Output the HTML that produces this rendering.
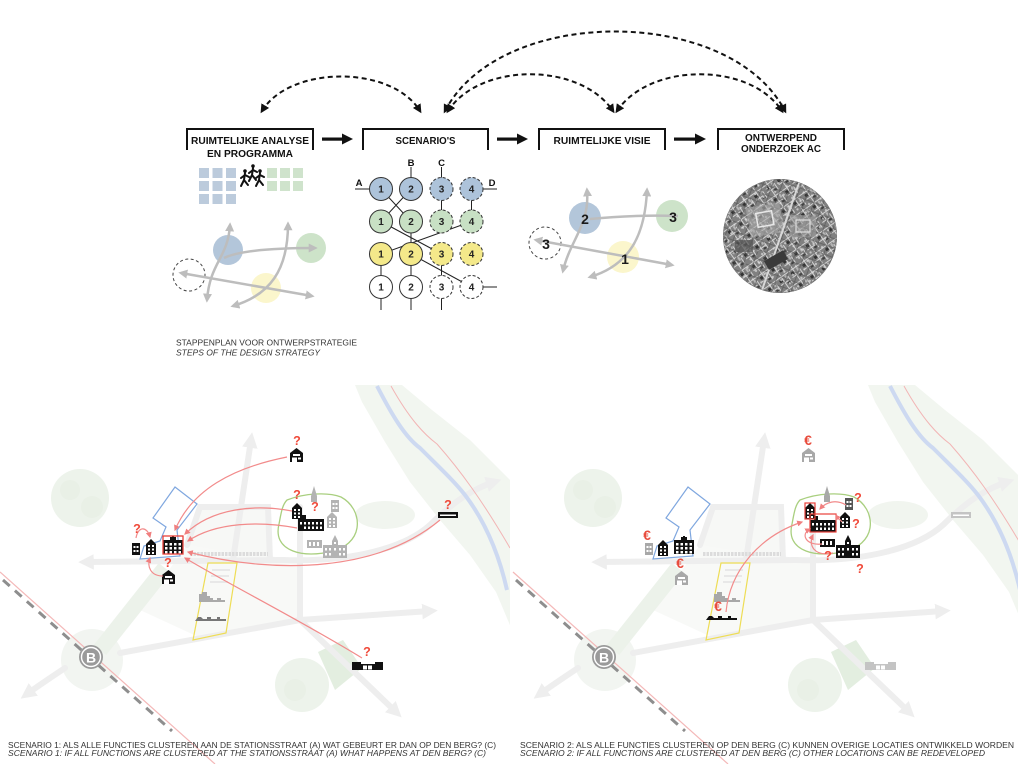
<!DOCTYPE html>
<html><head><meta charset="utf-8">
<style>
html,body{margin:0;padding:0;background:#fff;}
svg{display:block;}
text{font-family:"Liberation Sans",Arial,sans-serif;}
</style></head><body>
<svg width="1018" height="764" viewBox="0 0 1018 764" xmlns="http://www.w3.org/2000/svg" xmlns:xlink="http://www.w3.org/1999/xlink">
<defs>
 <marker id="mk" viewBox="0 0 10 10" refX="7" refY="5" markerWidth="4.5" markerHeight="4.5" orient="auto-start-reverse"><path d="M0,0 L10,5 L0,10 Z" fill="#111"/></marker>
 <marker id="mg" viewBox="0 0 10 10" refX="7" refY="5" markerWidth="3.6" markerHeight="3.6" orient="auto-start-reverse"><path d="M0,0 L10,5 L0,10 Z" fill="#bdbdbd"/></marker>
 <marker id="mr" viewBox="0 0 10 10" refX="8" refY="5" markerWidth="5" markerHeight="5" orient="auto"><path d="M0,0 L10,5 L0,10 Z" fill="#f07f7f"/></marker>
 <marker id="mroad" viewBox="0 0 10 10" refX="5" refY="5" markerWidth="2.6" markerHeight="2.6" orient="auto"><path d="M0,0 L10,5 L0,10 Z" fill="#eeeeee"/></marker>

 <pattern id="aer" width="14" height="14" patternUnits="userSpaceOnUse" patternTransform="rotate(-35)">
  <rect width="14" height="14" fill="#808080"/>
  <path d="M0,3H14 M0,10H9 M5,0V14 M11,6V14" stroke="#d2d2d2" stroke-width="1"/>
  <rect x="1" y="5" width="3" height="3" fill="#333"/>
  <rect x="7" y="11" width="3" height="2" fill="#404040"/>
  <rect x="8" y="4" width="2" height="4" fill="#b5b5b5"/>
 </pattern>
 <pattern id="aer2" width="9" height="9" patternUnits="userSpaceOnUse" patternTransform="rotate(20)">
  <rect width="9" height="9" fill="none"/>
  <path d="M0,2H9 M6,0V9" stroke="#505050" stroke-width="0.8"/>
  <rect x="1" y="4" width="2" height="2" fill="#e0e0e0"/>
 </pattern>
 <clipPath id="aerClip"><circle cx="780" cy="236" r="57"/></clipPath>
 <clipPath id="clipL"><rect x="0" y="380" width="510" height="384"/></clipPath>
 <clipPath id="clipR"><rect x="510" y="380" width="508" height="384"/></clipPath>

 <g id="bHouse"><path d="M0,5 L6.5,0 L13,5 V14 H0 Z"/><rect x="3" y="6" width="7" height="2" fill="#fff"/><rect x="2" y="9.5" width="5" height="4.5" fill="#fff"/><rect x="8" y="9.5" width="3" height="2" fill="#fff"/></g>
 <g id="bTall"><path d="M0,5 L5,0 L10,5 V16 H0Z"/><g fill="#fff"><rect x="2" y="6" width="2" height="2"/><rect x="6" y="6" width="2" height="2"/><rect x="2" y="9.5" width="2" height="2"/><rect x="6" y="9.5" width="2" height="2"/><rect x="2" y="13" width="2" height="2"/><rect x="6" y="13" width="2" height="2"/></g></g>
 <g id="bSmall"><rect width="8" height="12"/><g fill="#fff"><rect x="1.5" y="3" width="2" height="2"/><rect x="4.5" y="3" width="2" height="2"/><rect x="1.5" y="7" width="2" height="2"/><rect x="4.5" y="7" width="2" height="2"/></g></g>
 <g id="bBlock"><path d="M0,4 H7 V1 H9 V0 H11 V1 H13 V4 H20 V18 H0Z"/><g fill="#fff"><rect x="2" y="7" width="2.5" height="2.5"/><rect x="6.5" y="7" width="2.5" height="2.5"/><rect x="11" y="7" width="2.5" height="2.5"/><rect x="15.5" y="7" width="2.5" height="2.5"/><rect x="2" y="11" width="2.5" height="2.5"/><rect x="6.5" y="11" width="2.5" height="2.5"/><rect x="11" y="11" width="2.5" height="2.5"/><rect x="15.5" y="11" width="2.5" height="2.5"/><rect x="2" y="15" width="2.5" height="2.5"/><rect x="6.5" y="15" width="2.5" height="2.5"/><rect x="11" y="15" width="2.5" height="2.5"/><rect x="15.5" y="15" width="2.5" height="2.5"/></g></g>
 <g id="bBig"><path d="M0,6 H4 V2 H8 V6 H26 V18 H0Z"/><g fill="#fff"><rect x="2" y="9" width="2" height="2.5"/><rect x="6" y="9" width="2" height="2.5"/><rect x="10" y="9" width="2" height="2.5"/><rect x="14" y="9" width="2" height="2.5"/><rect x="18" y="9" width="2" height="2.5"/><rect x="22" y="9" width="2" height="2.5"/><rect x="6" y="13.5" width="2" height="2.5"/><rect x="10" y="13.5" width="2" height="2.5"/><rect x="14" y="13.5" width="2" height="2.5"/><rect x="18" y="13.5" width="2" height="2.5"/><rect x="22" y="13.5" width="2" height="2.5"/></g></g>
 <g id="bChurch"><path d="M9,6 L12,0 L15,6 V10 H24 V23 H0 V10 H9 Z"/><g fill="#fff"><rect x="11" y="7" width="2" height="2"/><rect x="2" y="13" width="2" height="2.5"/><rect x="6" y="13" width="2" height="2.5"/><rect x="11" y="13" width="2" height="2.5"/><rect x="16" y="13" width="2" height="2.5"/><rect x="20" y="13" width="2" height="2.5"/><rect x="2" y="18" width="2" height="2.5"/><rect x="6" y="18" width="2" height="2.5"/><rect x="16" y="18" width="2" height="2.5"/><rect x="20" y="18" width="2" height="2.5"/></g></g>
 <g id="bRow"><path d="M0,2 H15 V10 H0Z"/><g fill="#fff"><rect x="2" y="4" width="2" height="4"/><rect x="6" y="4" width="2" height="4"/><rect x="10" y="4" width="2" height="4"/></g></g>
 <g id="bFlat"><rect width="20" height="6"/><rect x="2" y="2.5" width="16" height="1.5" fill="#fff"/></g>
 <g id="bFactory"><path d="M0,0 H9 V2 H23 V0 H31 V8 H0 Z"/><rect x="11" y="3.5" width="4" height="4" fill="#fff"/><rect x="16" y="3.5" width="4" height="4" fill="#fff"/></g>
 <g id="bSpire"><path d="M3,0 L6,10 V16 H0 V10 Z"/></g>
 <g id="bJag"><path d="M0,10 V2 H3 V0 H8 V4 H11 V6 H14 V8 H18 V6 H22 V8 H26 V10 Z"/></g>
 <g id="bLow"><path d="M0,5 L3,1 H6 L8,3 H12 V1 H16 V3 H22 V1 H25 V3 H31 V5 Z"/></g>

 <g id="base">
  <path d="M355,385 L402,385 L432,410 L470,440 L500,470 L512,482 L512,630 L496,592 L470,555 L440,520 L410,482 L385,442 L362,402 Z" fill="#f2f6f0"/>
  <ellipse cx="385" cy="515" rx="30" ry="14" fill="#f1f5ef"/>
  <circle cx="80" cy="498" r="29" fill="#edf3eb"/>
  <circle cx="70" cy="490" r="10" fill="#e9f0e6"/>
  <circle cx="92" cy="507" r="11" fill="#e9f0e6"/>
  <circle cx="302" cy="685" r="27" fill="#edf3eb"/>
  <circle cx="295" cy="690" r="11" fill="#e9f0e6"/>
  <polygon points="318,652 343,640 362,668 335,690" fill="#e3eee0"/>
  <circle cx="92" cy="660" r="31" fill="#f2f5f1"/>
  <polygon points="187,545 283,558 300,560 300,620 205,640 140,610" fill="#f8f9f7"/>
  <polygon points="200,507 268,507 270,558 187,545" fill="#f7f8f6"/>
  <path d="M100,650 L165,568" stroke="#ecf2ea" stroke-width="16" fill="none"/>
  <g stroke="#eeeeee" stroke-width="6" fill="none" stroke-linecap="round">
   <path d="M283,560 L86,562" marker-end="url(#mroad)"/>
   <path d="M283,560 C340,562 400,552 430,525 C455,500 475,488 494,482" marker-end="url(#mroad)"/>
   <path d="M233,560 L251,440" marker-end="url(#mroad)"/>
   <path d="M187,545 L200,507 L268,507 L270,560"/>
   <path d="M300,507 L300,620"/>
   <path d="M120,653 L300,620 L430,611" marker-end="url(#mroad)"/>
   <path d="M300,620 L396,712" marker-end="url(#mroad)"/>
   <path d="M65,668 C50,678 38,686 27,694" marker-end="url(#mroad)"/>
  </g>
  <path d="M377,386 C392,415 405,437 420,448 C440,468 455,482 465,495 C484,520 498,550 507,590" stroke="#cdd9f1" stroke-width="4" fill="none"/>
  <path d="M391,386 C410,420 425,435 437,444 C460,470 482,500 510,548" stroke="#f2b5b5" stroke-width="1" fill="none"/>
  <path d="M190,554 L268,554" stroke="#dcdcdc" stroke-width="4" stroke-dasharray="2.5 1" fill="none"/>
  <path d="M0,572 L215,764" stroke="#f4b8b8" stroke-width="1.2" fill="none"/>
  <path d="M3,580 L172,731" stroke="#8e8e8e" stroke-width="3" stroke-dasharray="9 7" fill="none"/>
  <circle cx="91" cy="657" r="12" fill="#9a9a9a"/>
  <circle cx="91" cy="657" r="9.5" fill="none" stroke="#fff" stroke-width="1.4"/>
  <text x="91" y="662.5" font-family="Liberation Serif,serif" font-weight="bold" font-size="14" fill="#fff" text-anchor="middle">B</text>
  <path d="M175,487 L197,504 L177,530 L180,556 L140,559 L144,546 L160,541 L166,527 L153,518 Z" fill="none" stroke="#7fa7df" stroke-width="1.2"/>
  <path d="M208,563 L237,563 L226,633 L193,640 Z" fill="none" stroke="#eedd55" stroke-width="1.2"/>
  <path d="M212,570 L230,570 M211,576 L229,576 M210,582 L228,582" stroke="#e8e8e8" stroke-width="2"/>
  <path d="M287,500 C305,493 328,492 341,497 C352,503 359,515 357,528 C355,540 345,548 333,551 C318,555 303,555 293,551 C280,546 276,536 279,524 C281,514 282,505 287,500 Z" fill="none" stroke="#a9cf7f" stroke-width="1.3"/>
 </g>
</defs>

<g fill="none" stroke="#111" stroke-width="2" stroke-dasharray="5 3.5">
 <path d="M262,111 C290,65 392,65 420,111" marker-start="url(#mk)" marker-end="url(#mk)"/>
 <path d="M445,111 C500,5 730,5 785,111" marker-start="url(#mk)" marker-end="url(#mk)"/>
 <path d="M448,111 C480,62 580,62 613,111" marker-start="url(#mk)" marker-end="url(#mk)"/>
 <path d="M617,111 C650,62 750,62 782,111" marker-start="url(#mk)" marker-end="url(#mk)"/>
</g>

<g fill="none" stroke="#111" stroke-width="2">
 <path d="M187,150 V129 H313 V150"/>
 <path d="M363,150 V129 H488 V150"/>
 <path d="M539,150 V129 H665 V150"/>
 <path d="M718,150 V129 H844 V150"/>
</g>
<g fill="#111">
 <rect x="322" y="137.5" width="21" height="3.2"/><path d="M342,133.5 L353,139 L342,144.5 Z"/>
 <rect x="497" y="137.5" width="21" height="3.2"/><path d="M517,133.5 L528,139 L517,144.5 Z"/>
 <rect x="674" y="137.5" width="22" height="3.2"/><path d="M695,133.5 L706,139 L695,144.5 Z"/>
</g>
<g font-weight="bold" font-size="10.5" fill="#111" text-anchor="middle">
 <text x="250" y="144" textLength="118" lengthAdjust="spacingAndGlyphs">RUIMTELIJKE ANALYSE</text>
 <text x="250" y="157" textLength="86" lengthAdjust="spacingAndGlyphs">EN PROGRAMMA</text>
 <text x="425.5" y="144" textLength="60" lengthAdjust="spacingAndGlyphs">SCENARIO'S</text>
 <text x="602" y="144" textLength="97" lengthAdjust="spacingAndGlyphs">RUIMTELIJKE VISIE</text>
 <text x="781" y="141" textLength="72" lengthAdjust="spacingAndGlyphs">ONTWERPEND</text>
 <text x="781" y="152" textLength="80" lengthAdjust="spacingAndGlyphs">ONDERZOEK AC</text>
</g>

<g fill="#bccbdc">
 <rect x="199" y="168" width="10" height="10"/><rect x="212.5" y="168" width="10" height="10"/><rect x="226" y="168" width="10" height="10"/>
 <rect x="199" y="181" width="10" height="10"/><rect x="212.5" y="181" width="10" height="10"/><rect x="226" y="181" width="10" height="10"/>
 <rect x="199" y="194" width="10" height="10"/><rect x="212.5" y="194" width="10" height="10"/><rect x="226" y="194" width="10" height="10"/>
</g>
<g fill="#cfe3cc">
 <rect x="267" y="168" width="10" height="10"/><rect x="280" y="168" width="10" height="10"/><rect x="293" y="168" width="10" height="10"/>
 <rect x="267" y="181" width="10" height="10"/><rect x="280" y="181" width="10" height="10"/><rect x="293" y="181" width="10" height="10"/>
</g>
<g stroke="#111" stroke-width="2" fill="none" stroke-linecap="round">
 <g transform="translate(245,171)"><circle cx="0" cy="0" r="1.8" fill="#111" stroke="none"/><path d="M0,2 L-1,9 M-1,9 L-4,15 M-1,9 L3,14 M0,4 L-4,7 M0,4 L4,6"/></g>
 <g transform="translate(253,166)"><circle cx="0" cy="0" r="1.8" fill="#111" stroke="none"/><path d="M0,2 L-1,9 M-1,9 L-4,15 M-1,9 L3,14 M0,4 L-4,7 M0,4 L4,6"/></g>
 <g transform="translate(260,171)"><circle cx="0" cy="0" r="1.8" fill="#111" stroke="none"/><path d="M0,2 L-1,9 M-1,9 L-4,15 M-1,9 L3,14 M0,4 L-4,7 M0,4 L4,6"/></g>
</g>

<circle cx="228" cy="250" r="15" fill="#b3c6da"/>
<circle cx="311" cy="248" r="15" fill="#cde3c9"/>
<circle cx="266" cy="288" r="15" fill="#fbf6cc"/>
<circle cx="189" cy="275" r="16" fill="none" stroke="#444" stroke-width="1" stroke-dasharray="3 2.5"/>
<g fill="none" stroke="#bdbdbd" stroke-width="2.5">
 <path d="M207,300 C210,262 228,258 230,225" marker-start="url(#mg)" marker-end="url(#mg)"/>
 <path d="M288,224 C288,270 270,295 233,306" marker-start="url(#mg)" marker-end="url(#mg)"/>
 <path d="M224,258 C240,250 280,248 315,248" marker-end="url(#mg)"/>
 <path d="M181,273 L312,296" marker-start="url(#mg)" marker-end="url(#mg)"/>
</g>

<g stroke="#222" stroke-width="1" fill="none">
 <path d="M355,189 H370 M483,189 H497 M411,167 V178 M441.5,167 V178"/>
 <path d="M381,189 L411,221.5 M411,189 L381,221.5 M381,221.5 L441.5,254 M471.5,221.5 L381,254 M411,221.5 V254 M411,254 L471.5,287"/>
 <path d="M441.5,189 V221.5 M471.5,189 V221.5 M381,254 V287 M411,254 V287 M441.5,254 V287"/>
 <path d="M381,298 V310 M411,298 V310 M441.5,298 V310 M483,287 H497"/>
</g>
<g stroke="#333" stroke-width="1">
 <circle cx="381" cy="189" r="11.5" fill="#adc3da"/>
 <circle cx="411" cy="189" r="11.5" fill="#adc3da"/>
 <circle cx="441.5" cy="189" r="11.5" fill="#adc3da" stroke-dasharray="3 2"/>
 <circle cx="471.5" cy="189" r="11.5" fill="#adc3da" stroke-dasharray="3 2"/>
 <circle cx="381" cy="221.5" r="11.5" fill="#c8e0c4"/>
 <circle cx="411" cy="221.5" r="11.5" fill="#c8e0c4"/>
 <circle cx="441.5" cy="221.5" r="11.5" fill="#c8e0c4" stroke-dasharray="3 2"/>
 <circle cx="471.5" cy="221.5" r="11.5" fill="#c8e0c4" stroke-dasharray="3 2"/>
 <circle cx="381" cy="254" r="11.5" fill="#f4e98a"/>
 <circle cx="411" cy="254" r="11.5" fill="#f4e98a"/>
 <circle cx="441.5" cy="254" r="11.5" fill="#f4e98a" stroke-dasharray="3 2"/>
 <circle cx="471.5" cy="254" r="11.5" fill="#f4e98a" stroke-dasharray="3 2"/>
 <circle cx="381" cy="287" r="11.5" fill="#fff"/>
 <circle cx="411" cy="287" r="11.5" fill="#fff"/>
 <circle cx="441.5" cy="287" r="11.5" fill="#fff" stroke-dasharray="3 2"/>
 <circle cx="471.5" cy="287" r="11.5" fill="#fff" stroke-dasharray="3 2"/>
</g>
<g font-size="10" font-weight="bold" fill="#222" text-anchor="middle">
 <text x="381" y="192.5">1</text><text x="411" y="192.5">2</text><text x="441.5" y="192.5">3</text><text x="471.5" y="192.5">4</text>
 <text x="381" y="225">1</text><text x="411" y="225">2</text><text x="441.5" y="225">3</text><text x="471.5" y="225">4</text>
 <text x="381" y="257.5">1</text><text x="411" y="257.5">2</text><text x="441.5" y="257.5">3</text><text x="471.5" y="257.5">4</text>
 <text x="381" y="290.5">1</text><text x="411" y="290.5">2</text><text x="441.5" y="290.5">3</text><text x="471.5" y="290.5">4</text>
</g>
<g font-size="9.5" font-weight="bold" fill="#111" text-anchor="middle">
 <text x="359" y="186">A</text><text x="411" y="166">B</text><text x="441.5" y="166">C</text><text x="492" y="186">D</text>
</g>

<circle cx="585" cy="218" r="16" fill="#b3c6da"/>
<circle cx="672" cy="216" r="16" fill="#cde3c9"/>
<circle cx="623" cy="257" r="16" fill="#fbf6cc"/>
<circle cx="545" cy="243" r="16" fill="none" stroke="#444" stroke-width="1" stroke-dasharray="3 2.5"/>
<g fill="none" stroke="#bdbdbd" stroke-width="2.5">
 <path d="M563,271 C570,240 590,225 587,190" marker-start="url(#mg)" marker-end="url(#mg)"/>
 <path d="M647,190 C645,235 630,265 590,277" marker-start="url(#mg)" marker-end="url(#mg)"/>
 <path d="M590,219 C620,216 650,215 678,216"/>
 <path d="M536,240 L672,265" marker-start="url(#mg)" marker-end="url(#mg)"/>
</g>
<g font-size="14" font-weight="bold" fill="#1a1a1a" text-anchor="middle">
 <text x="585" y="224">2</text><text x="673" y="222">3</text><text x="546" y="249">3</text><text x="625" y="264">1</text>
</g>

<g clip-path="url(#aerClip)">
 <rect x="720" y="176" width="120" height="120" fill="url(#aer)"/>
 <rect x="720" y="176" width="120" height="120" fill="url(#aer2)" opacity="0.7"/>
 <rect x="748" y="205" width="34" height="30" fill="#a8a8a8" opacity="0.6" transform="rotate(-10 765 220)"/>
 <rect x="757" y="212" width="16" height="14" fill="none" stroke="#e8e8e8" stroke-width="1.5" transform="rotate(-10 765 220)"/>
 <rect x="790" y="215" width="26" height="22" fill="#9c9c9c" opacity="0.6"/>
 <rect x="796" y="220" width="14" height="12" fill="none" stroke="#dedede" stroke-width="1.2"/>
 <path d="M800,180 L760,296" stroke="#d8d8d8" stroke-width="2"/>
 <rect x="765" y="255" width="22" height="10" fill="#3a3a3a" transform="rotate(-30 776 260)"/>
 <rect x="735" y="240" width="18" height="12" fill="#555" opacity="0.7"/>
 <circle cx="780" cy="236" r="57" fill="none" stroke="#777" stroke-width="1"/>
</g>

<text x="176" y="345.5" font-size="8" fill="#333" textLength="181" lengthAdjust="spacingAndGlyphs">STAPPENPLAN VOOR ONTWERPSTRATEGIE</text>
<text x="176" y="355.5" font-size="8" font-style="italic" fill="#333" textLength="144" lengthAdjust="spacingAndGlyphs">STEPS OF THE DESIGN STRATEGY</text>

<g clip-path="url(#clipL)"><use xlink:href="#base" href="#base"/></g>
<g clip-path="url(#clipR)"><use xlink:href="#base" href="#base" transform="translate(513,0)"/></g>

<g fill="#b3b3b3">
 <use href="#bSpire" xlink:href="#bSpire" x="311" y="486"/>
 <use href="#bSmall" xlink:href="#bSmall" x="331" y="500"/>
 <use href="#bTall" xlink:href="#bTall" x="327" y="512"/>
 <use href="#bRow" xlink:href="#bRow" x="307" y="538"/>
 <use href="#bChurch" xlink:href="#bChurch" x="323" y="535"/>
</g>
<g fill="#aaaaaa"><use href="#bJag" xlink:href="#bJag" x="199" y="592"/></g>
<g fill="#777"><use href="#bLow" xlink:href="#bLow" x="195" y="616"/></g>
<g fill="#111">
 <use href="#bTall" xlink:href="#bTall" x="292" y="503"/>
 <use href="#bBig" xlink:href="#bBig" x="298" y="513"/>
 <use href="#bSmall" xlink:href="#bSmall" x="132" y="543"/>
 <use href="#bTall" xlink:href="#bTall" x="146" y="539"/>
 <use href="#bHouse" xlink:href="#bHouse" x="162" y="570"/>
 <use href="#bHouse" xlink:href="#bHouse" x="290" y="448"/>
 <use href="#bFlat" xlink:href="#bFlat" x="438" y="512"/>
 <use href="#bFactory" xlink:href="#bFactory" x="352" y="662"/>
</g>
<g fill="#111"><use href="#bBlock" xlink:href="#bBlock" x="163" y="536"/></g>
<rect x="163" y="536" width="20" height="18" fill="none" stroke="#e8403a" stroke-width="1.3"/>
<g fill="none" stroke="#f28b8b" stroke-width="1.2">
 <path d="M287,457 C232,468 192,490 175,530" marker-end="url(#mr)"/>
 <path d="M292,511 C255,504 212,508 185,534" marker-end="url(#mr)"/>
 <path d="M297,528 C260,521 216,522 188,541" marker-end="url(#mr)"/>
 <path d="M440,520 C380,570 280,576 188,552" marker-end="url(#mr)"/>
 <path d="M362,658 C300,620 232,586 185,558" marker-end="url(#mr)"/>
 <path d="M136,538 C138,526 147,526 150,537" marker-end="url(#mr)"/>
 <path d="M163,576 C150,576 147,566 150,558" marker-end="url(#mr)"/>
</g>
<g font-size="12.5" font-weight="bold" fill="#f04a3a" text-anchor="middle">
 <text x="297" y="445">?</text>
 <text x="137" y="533">?</text>
 <text x="168" y="567">?</text>
 <text x="297" y="499">?</text>
 <text x="315" y="511">?</text>
 <text x="448" y="509">?</text>
 <text x="367" y="656">?</text>
</g>

<g fill="#a8a8a8">
 <use href="#bSmall" xlink:href="#bSmall" x="645" y="543"/>
 <use href="#bHouse" xlink:href="#bHouse" x="675" y="571"/>
 <use href="#bHouse" xlink:href="#bHouse" x="802" y="448"/>
 <use href="#bSpire" xlink:href="#bSpire" x="824" y="486"/>
 <use href="#bJag" xlink:href="#bJag" x="714" y="592"/>
</g>
<g fill="#c4c4c4">
 <use href="#bFlat" xlink:href="#bFlat" x="951" y="512"/>
 <use href="#bFactory" xlink:href="#bFactory" x="865" y="662"/>
</g>
<g fill="#555"><use href="#bSmall" xlink:href="#bSmall" x="845" y="498"/></g>
<g fill="#111">
 <use href="#bTall" xlink:href="#bTall" x="658" y="540"/>
 <use href="#bBlock" xlink:href="#bBlock" x="674" y="536"/>
 <use href="#bTall" xlink:href="#bTall" x="805" y="503"/>
 <use href="#bBig" xlink:href="#bBig" x="810" y="514"/>
 <use href="#bTall" xlink:href="#bTall" x="840" y="512"/>
 <use href="#bRow" xlink:href="#bRow" x="820" y="537"/>
 <use href="#bChurch" xlink:href="#bChurch" x="836" y="535"/>
 <use href="#bLow" xlink:href="#bLow" x="706" y="615"/>
</g>
<rect x="805" y="503" width="10" height="16" fill="none" stroke="#e8403a" stroke-width="1.2"/>
<rect x="810" y="514" width="26" height="18" fill="none" stroke="#e8403a" stroke-width="1.2"/>
<g fill="none" stroke="#f28b8b" stroke-width="1.2">
 <path d="M726,612 C730,570 760,536 802,522" marker-end="url(#mr)"/>
 <path d="M846,505 C836,499 826,502 820,509" marker-end="url(#mr)"/>
 <path d="M842,522 C839,518 837,518 836,520" marker-end="url(#mr)"/>
 <path d="M822,544 C806,546 800,534 810,529" marker-end="url(#mr)"/>
 <path d="M833,553 C814,557 808,545 813,535" marker-end="url(#mr)"/>
</g>
<g font-size="12.5" font-weight="bold" fill="#f04a3a" text-anchor="middle">
 <text x="858" y="502">?</text>
 <text x="856" y="528">?</text>
 <text x="828" y="560">?</text>
 <text x="860" y="573">?</text>
</g>
<g font-size="14" font-weight="bold" fill="#e84c3d" text-anchor="middle">
 <text x="808" y="445">€</text>
 <text x="647" y="540">€</text>
 <text x="680" y="568">€</text>
 <text x="718" y="611">€</text>
</g>

<g font-size="7.8" fill="#333">
 <text x="8" y="748" textLength="488" lengthAdjust="spacingAndGlyphs">SCENARIO 1: ALS ALLE FUNCTIES CLUSTEREN AAN DE STATIONSSTRAAT (A) WAT GEBEURT ER DAN OP DEN BERG? (C)</text>
 <text x="8" y="756" font-style="italic" textLength="478" lengthAdjust="spacingAndGlyphs">SCENARIO 1: IF ALL FUNCTIONS ARE CLUSTERED AT THE STATIONSSTRAAT (A) WHAT HAPPENS AT DEN BERG? (C)</text>
 <text x="520" y="748" textLength="494" lengthAdjust="spacingAndGlyphs">SCENARIO 2: ALS ALLE FUNCTIES CLUSTEREN OP DEN BERG (C) KUNNEN OVERIGE LOCATIES ONTWIKKELD WORDEN</text>
 <text x="520" y="756" font-style="italic" textLength="465" lengthAdjust="spacingAndGlyphs">SCENARIO 2: IF ALL FUNCTIONS ARE CLUSTERED AT DEN BERG (C) OTHER LOCATIONS CAN BE REDEVELOPED</text>
</g>
</svg>
</body></html>
